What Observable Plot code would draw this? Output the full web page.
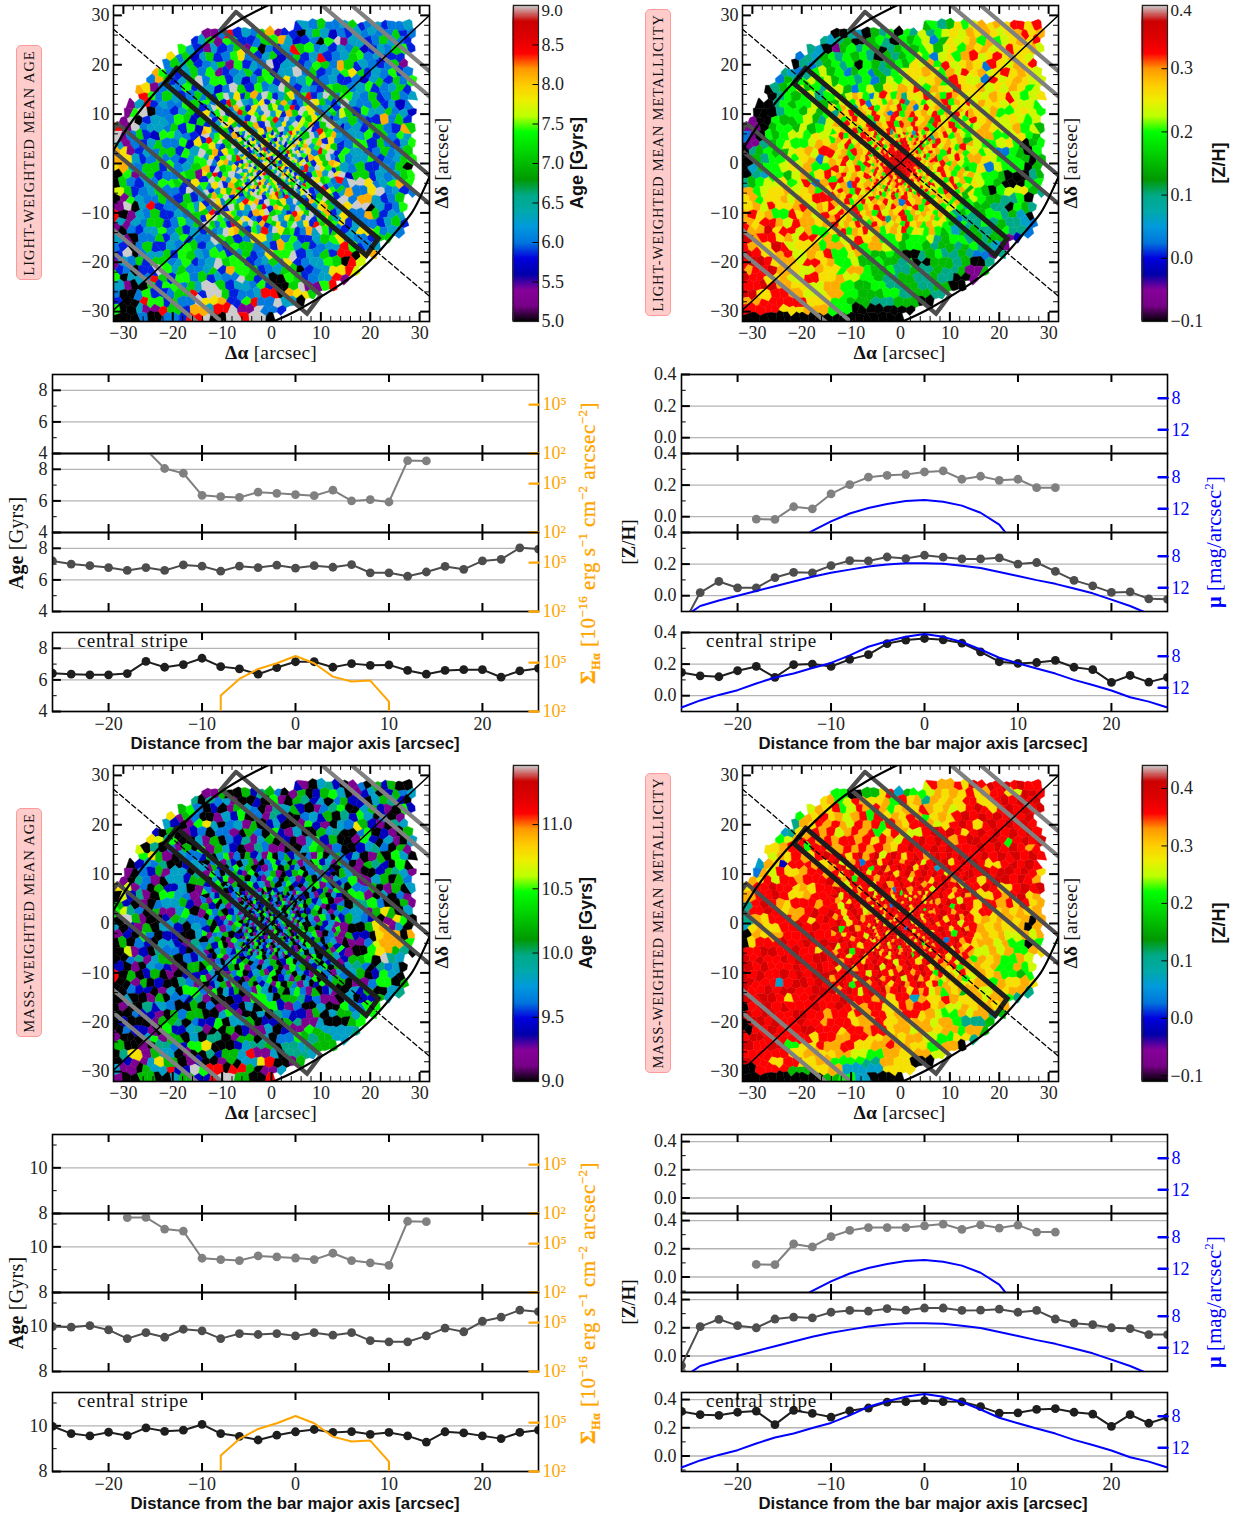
<!DOCTYPE html>
<html><head><meta charset="utf-8">
<script src="https://cdn.jsdelivr.net/npm/d3@7"></script>
<script src="https://cdn.jsdelivr.net/npm/@observablehq/plot@0.6"></script>
<style>
html,body{margin:0;padding:0;background:#fff}
#page{position:relative;width:1242px;height:1519px;overflow:hidden;background:#fff}
#page svg{position:absolute;max-width:none}
.t{position:absolute;white-space:nowrap;font-family:"Liberation Serif",serif;font-size:18px;color:#111;line-height:1}
.sans{font-family:"Liberation Sans",sans-serif;font-weight:700}
.box{position:absolute;background:#ffcccc;border:1.2px solid #ff9a9a;border-radius:5px;box-sizing:border-box}
</style></head><body><div id="page"></div>
<script>
/* ---------- profile data ---------- */
const distance=[-26,-24,-22,-20,-18,-16,-14,-12,-10,-8,-6,-4,-2,0,2,4,6,8,10,12,14,16,18,20,22,24,26];
const lightAgeOuter=[null,null,null,null,null,9.25,8.05,7.75,6.35,6.27,6.22,6.55,6.48,6.4,6.33,6.68,6.0,6.08,5.93,8.55,8.53,null,null,null,null,null,null];
const lightAgeMiddle=[7.2,7.0,6.9,6.78,6.6,6.78,6.6,6.95,6.87,6.55,6.87,6.78,6.93,6.75,6.9,6.8,6.97,6.45,6.45,6.23,6.5,6.85,6.67,7.2,7.3,8.03,7.95];
const lightAgeCentral=[6.42,6.36,6.32,6.32,6.4,7.17,6.8,6.97,7.37,6.84,6.7,6.36,6.78,7.15,7.15,6.8,7.03,6.92,6.95,6.6,6.36,6.6,6.65,6.65,6.17,6.57,6.73];
const lightZOuter=[null,null,null,null,-0.015,-0.017,0.063,0.05,0.144,0.203,0.25,0.262,0.267,0.283,0.29,0.237,0.256,0.23,0.237,0.184,0.184,null,null,null,null,null,null];
const lightZMiddle=[-0.2,0.02,0.09,0.05,0.05,0.115,0.148,0.145,0.19,0.222,0.22,0.245,0.235,0.256,0.244,0.233,0.233,0.24,0.2,0.21,0.154,0.097,0.062,0.021,0.024,-0.02,-0.023];
const lightZCentral=[0.147,0.126,0.12,0.158,0.185,0.116,0.196,0.2,0.185,0.23,0.26,0.33,0.352,0.362,0.354,0.333,0.278,0.215,0.204,0.21,0.223,0.18,0.165,0.084,0.128,0.086,0.116];
const massAgeOuter=[null,null,null,null,11.28,11.29,10.78,10.69,9.5,9.44,9.4,9.6,9.56,9.51,9.44,9.72,9.4,9.3,9.19,11.12,11.1,null,null,null,null,null,null];
const massAgeMiddle=[9.97,9.94,10.01,9.82,9.44,9.7,9.5,9.85,9.78,9.44,9.66,9.62,9.66,9.56,9.7,9.59,9.7,9.35,9.3,9.3,9.56,9.9,9.74,10.2,10.38,10.69,10.62];
const massAgeCentral=[9.98,9.66,9.56,9.72,9.57,9.91,9.76,9.81,10.06,9.66,9.54,9.38,9.59,9.74,9.84,9.71,9.75,9.63,9.71,9.56,9.29,9.74,9.69,9.56,9.44,9.71,9.81];
const massZOuter=[null,null,null,null,0.089,0.087,0.234,0.213,0.286,0.33,0.35,0.35,0.35,0.363,0.375,0.337,0.37,0.347,0.368,0.318,0.318,null,null,null,null,null,null];
const massZMiddle=[-0.068,0.208,0.26,0.215,0.2,0.262,0.276,0.27,0.31,0.323,0.318,0.335,0.325,0.34,0.34,0.323,0.325,0.332,0.31,0.323,0.262,0.232,0.222,0.2,0.194,0.152,0.152];
const massZCentral=[0.316,0.293,0.288,0.31,0.318,0.222,0.323,0.302,0.276,0.32,0.34,0.382,0.386,0.393,0.386,0.384,0.35,0.304,0.306,0.33,0.335,0.31,0.297,0.21,0.293,0.232,0.274];
const muOuter=[null,null,null,null,null,null,16.1,14.8,13.6,12.6,11.9,11.4,11.0,10.9,11.1,11.6,12.5,14.0,17,null,null,null,null,null,null,null,null];
const muMiddle=[15.9,14.3,13.6,13,12.4,11.8,11.2,10.6,10.1,9.7,9.3,9.05,8.9,8.9,8.97,9.2,9.5,10,10.5,11.03,11.5,12.1,12.7,13.5,14.3,15.3,16];
const muCentral=[14.5,13.6,12.9,12.3,11.45,10.7,10.2,9.5,8.85,7.9,6.8,6.1,5.55,5.2,5.55,6.2,7.15,8.2,8.9,9.55,10.2,11,11.65,12.35,13.2,13.75,14.5];
const haDistance=[-8,-8,-6,-4,-2,0,2,4,6,8,10,10];
const haFlux=[100,955,10000,41000,91000,257000,91000,13800,6900,7900,407,100];

/* ---------- maps: one character per Voronoi cell, read region by region ---------- */
const spectralStops=[0,.05,.1,.15,.2,.25,.3,.35,.4,.45,.5,.55,.6,.65,.7,.75,.8,.85,.9,.95,1];
const spectralColors=["#000000","#770088","#880099","#0000aa","#0000dd","#0077dd","#0099dd","#00aaaa","#00aa88","#009900","#00bb00","#00dd00","#00ff00","#bbff00","#eeee00","#ffcc00","#ff9900","#ff0000","#dd0000","#cc0000","#cccccc"];
const cellCodes="0123456789abcd";
const lightAgeLevels=[5.0,5.28,5.7,5.85,6.02,6.3,7.15,7.42,7.68,7.88,8.12,8.4,8.68,9.0];
const lightZLevels=[-0.1,-0.065,-0.015,0.025,0.06,0.1,0.15,0.2,0.235,0.26,0.29,0.325,0.36,0.4];
const massAgeLevels=[9.0,9.17,9.42,9.62,9.79,9.98,10.23,10.48,10.65,10.77,10.92,11.09,11.26,11.46];
const massZLevels=[-0.11,-0.072,-0.017,0.028,0.066,0.11,0.165,0.22,0.258,0.286,0.319,0.358,0.396,0.44];
const rowFirst=[40,40,23,11,10,8,7,6,5,4,3,3,2,1,1,0,0,0,0,0,0,0,0,0,0,0,0,0,0,0,0,0,0,0,0,0,0,0,0,0];
const rowLast=[-1,-1,37,37,37,37,36,36,37,37,37,37,37,37,37,37,37,37,37,37,37,37,37,37,36,36,36,36,36,34,33,32,31,30,29,27,25,23,21,19];
const seedShiftX=[.31,-.42,.12,-.18,.47,-.29,.05,.38,-.5,.22,-.09];
const seedShiftY=[-.26,.41,-.13,.33,-.48,.19,.07,-.37,.28,-.04,.44,-.21,.15];

const lightAgeOuterCells=["","",
"354644563453445",
"114b3546a1330456524354544634",
"3561763467a523407d15346543",
"75315346170435b4674535462354673",
"9462563479435624635b3456745233",
"4656345617354d2534764a63543461",
"a7435647134563725d46345796354734",
"4a6356d4735246739457345342563647",
"a9145473524d63745d635437645734563",
"b746534627a45d3637945361754634645",
"15b35476345127894d3456347d5463524",
"17d043562463d93457845d73463756452",
"1d0354762543893d5617452735643a463",
"b1d4546372594d7386345d7462453643a6",
"d146327543678d2935d7362546345736475",
"5143564729d7934736d8562456347364357",
"a9135463757968d3947568354d675346456",
"a953464357d6478937d29458d6345734567",
"9a54637456d38726d748926d7354635460",
"0715634761794d5638d9745637d26354567",
"064354763975d9324d86d5467534d9457a7",
"86345643d54738d5964d7354635a49d4534",
"0175464363d8974627d6345367d4a5346",
"1d05b34675439d7286d3547634a9d05347",
"b015463546d3275d9456734563d94a6355",
"5154634756734d6275343567a93543563",
"1043574635469d34756346356d3597454",
"5104635734d7634956473567954366",
"4304635476354376453a756345b7345",
"3d04563765473563497d35463b09a",
"154636457345d67345649345760b8",
"3403d7564563a76345603459b8",
"7054b63746354d635076345b1",
"510637465d63547306d17b",
"4047346b3d6345b0a96",
"30b7364d9a37b4d50",
"7051b63a5bd1d43",
"004043bd0dbd0"];
const lightAgeMidCells=[
"4637d5936a4d7356947b35d64","7493b6d54793d6a5347d96435","35d864a7395d6847b3d964573","947d35b6974d583a6d7943568",
"6d3a79453d697b4d538697d34","375d964b7a3d6594d87a36d95","a94763d87593a6d4795d3b674",
"d5794a36d497a5","3b7d6958d7a394","79436d9a57d963","d6a3975d94b7d3","5937d6b3a96d47","7d49a53d7396a9","a3d6794b5d9736","96b37d4937a5d9","3d7a5963d9674b","749d3a6b79d354","d3596a7d34b976",
"56a7d39467d3a95b7d4936d73","3d94675b9a3d7694d53a7964d","947a3d695d7b3a964d7359a64","6b3d97453a9d6753b96d47a35","39d75a6d943b7d596a4d37965","d6473b95d7a36947d593b6a74","3745d9a6375b4d96734a5d736"];
const lightAgeInnerCells=[
"74d93589473d6257b947","3d75946279853d8597d6","947d365a9742d6d58493","6d3895d7a2694d375d96",
"b4786d3975d4962d8a47","792d594b37d95678d439","d69347d8a49d357b6d95","49d7a536d9784d2965d7",
"795d396a7b3d96749d53","3d76924d85b7396d7948","97a4d6599d7256a8d479","69d83795a4d7b9356d74",
"d4597a3d9675d849375b","7956d38b497d5a96d347","4a7d953d769b58d47396","d7496d8a579d3759a4d6",
"7935d6b94a783d9567d4","5d78a396d5794ba96d37","b6943d7985d6a4792d59","3759d6a47d9b6375d948"];

const lightZOuterCells=["","",
"6756978a9a9bb9b",
"00540657075857898a9a989ab9a",
"5456006750767836989a7a789a9b",
"54016757605676786897a9a89b99a8",
"354675767506567873897ab89b9a98",
"05356757076567698a7b89a93b98a9b",
"54357867367365789a97a8b9a89b9a98",
"3657878675736878989a7b983b89a988",
"0567867586378698a9b7a98b9a898a978",
"05767857985968a9b89a7b9a98a9b8789",
"00576786379a879a8b9a8a79b8a989887",
"000576867589a9b89a3ba9a8b98a78987",
"1007678658a9b89ab8bab9a87b9a89878",
"11067686789ab89a7bcb89b9a78a98a786",
"3107678798a9b8a9bccb9a7b8a38a778976",
"11567878a9b89abcbccbb98a79a87897067",
"0567689a8b9a8bbcccccb9a78a97837607",
"0657879a38b9abbccccb89a87a9877606",
"0467898a79ba9bccccb9a98a79387706",
"054768a79b8abcccb9ab98a7a87760056",
"5678978b3a8bbcbab97a98a7898760077",
"a789a89a79b9a89a7b9a87a8976078965",
"9a79a8a9b89a8ba97a98a7898766570",
"9a8b9ab8a9b8a9b97a89a887876650765",
"ab9a7b9a8b9a7a9b897a3878765675640",
"a9ba8ba9ab89a798a8787665756543",
"bac9b8a7a9b7a987a7873656753",
"cab9a8b9a78b9a79678567565612",
"ba9cb89a7a9b7a8767656567541",
"cb9ab8a9b78a76760567565315",
"bcb9a8b9a78676570665605",
"abca98a97a76756565616",
"cb9a8b9a8765656501",
"bca98a76756560",
"c9ba8a767565",
"abb976560",
"bb9a7000",
"00000"];
const lightZMidCells=[
"7868a9738b97a5989b8a7ba98","68a79b3897a8b5a9789ab7a9b","97a85a9b79a9b7a38b9a7b8a9","5a9b7a8b9a3b7ab9a8b7a9b8a",
"8a79b9a7b8ab9a7b9a6b8a797","a7b8a9b5a9b7bab9a7ba9b7a8","79a9b7ab8abb9a8bab79a8b97",
"9b7a8baa9b7a87","7a9b8ba7b9a8a6","a8b7a9bb8a97b8","b9a7ba99a7b8a7","8ab7a9bb7a8b9a","a9b8a7ba9b7a87","b8a9b7a8b9a7a6","9ab8a9ba8b97a8","7b9ab8a9a7b8a7","b8a3b9ab8a9b78","9ba7b8aa7b97a6",
"ba9b8a9b7a9bab8a9b7a8a786","a9b7ab8a9b8a3b9a7b8a97a67","b8a9b7a9ba8b9a8b7a9a78975","9ba8b9a7b8a9b7a8a97a87567","ab9a7b8a9b5a9b7a98a797635","b8a9ba7b9a8a7b9a7a8976575","9ab7a9b8a79a8b7987a767456"];
const lightZInnerCells=[
"a8b7a9b5a98b7a4b97a8","9b7a8b9a7b8a9b7a8b95","b9a7ba9b8abb97ab8a7b","7a9b8a9bb7cb8ab9b87a",
"a8b9b7abb9bbc9a8b7a9","9b7ab9bbabcbba97b8a9","b8a9bacbbccbb9ab7a9b","7b9abb9cccbcbb9a8b7a",
"a9b8abbccccbcb9bb97a","8ab9bcbccccccbab8a9b","b7a9bacbccccbcbb9a8a","9ab8bbcbcccbcbab9b7a",
"a7b9abbbcbccbbb97ab9","8b9a7bbacbbcbab9a8b7","b9a8b9ab9bcbb9abb7a9","7ab9a8bab8bbab9b8a97",
"a9b7a9b9abb7abb9a87b","9b8a7b8ab9a8b7a9b9a8","b7a98b7a9b9a7b8a97b8","8a9b7a8b7a8b9a7b8a7a"];

const massAgeOuterCells=["","",
"210452013062600",
"116006256301602674012402634",
"50534102071065240362046520",
"6730201643015460201357004621072",
"9163001427031521003426052740301",
"4201794034160240017210439621054",
"2060123031063072140064503702106",
"9857004160325146020147260017204104",
"8050316071642015310047613002453061",
"7961043316025041602314003240160740",
"0243500241637002635012240301652070",
"1032614052102601431007536041026541",
"1053104261305213604067421037146063",
"98130624016452036270040162503601604",
"08251074312046214036001345207104031",
"62010346216043016504017640305730061",
"78530614702540016260405126034169604",
"0d6100265302103401062540017643201970",
"4021604204103240317025016721069a140",
"1207302004253071240016524016209aa0a",
"0603204215403213001425067240138aaa7",
"0812053204102321076204016521079a650",
"0035146032016024073620065302670d54",
"20104321067213001024302067245305340",
"b0602601027360105460012716034602740",
"0016020531062700465013670260137706",
"0032014072104060310467030426045",
"0401603251002174065231040264",
"0105243060312040721304007377",
"0032106360047104053216046477",
"0200165032704602065140067",
"0321072451060214021764445",
"100471604050160403765644",
"601053279002456054566",
"0591640105264b140554",
"021496012016049b016",
"41064b2d7b0b6014",
"1060462bd60b"];
const massAgeMidCells=[
"2604713062417036240317046","0371520461037240613072416","4162037460213706240317520","1730462170346102670341206",
"6042713604217306412603714","2170460372416037204671302","7316024036170246031402617",
"04261370316042","31706240624701","62041370371026","17360240260413","04217360417302","36024170036241","20713640602417","71346020471036","04601730260341","36270140713062","10463270402617",
"4207136024706130426170364","6130472603146027031460241","0714260713042601736024706","2406137024617036042170314","7130462016347024160370246","0246170360241706314027160","3170426031740260473160241"];
const massAgeInnerCells=[
"02160340127402603174","40317026403160240312","16024031702406130240","03107204613027416035",
"24061302470316024017","70314026031470260314","13602470316024073102","40261307402613047206",
"31704260317046037142","06241703160247031604","72031460240713602417","14602713046023170246",
"03170246031702460137","26401370246031460270","01734602170346021706","34017260341706240317",
"60241703260417036024","17036042710346072103","40271360241703460217","23604170326041720364"];

const massZOuterCells=["","",
"8baab9cbcbcbcbb",
"7700669b46778a9a9b9abb98ccb",
"9a78ba9a7b9a5a9a9bb9bcbcbc",
"8a9b78baba79a9ba9a89bcb9bcbcbc",
"7a9b9a8ab7b9a9ba79a9bcbcbcbcbc",
"5a9baba8bab7ba9ba89bcb9bcbcbcb",
"459abab8abab79ba8bcbcb9bcbcbcbcb",
"78abbababab9ba8bbcbcbabcbcb7bcbc",
"99abb7bbabababa9bcbbcbcbbcbcbcbab",
"8a9ba9bcbab9abab9bcbbcb8bcbcbcbcb",
"4a92bba9babbabbab9bbcbbcbcb9bcbcb",
"3a8b9abba9bcbbabbabcbbcbcbcbcbcb9",
"a9b8babbbabbab9bcbbcbcbbcb9bcbcba",
"9bbcb9a9bbab9bbabcbcbbcbcbbcb9bcbc",
"aabbcb9abbab9bcbbcbcbcbbcbcb9babc9a",
"5bcba9bbabbcbbcbcbcbcbbcbab9bab9b9a",
"5bbcb9abcbbcbcbcbcbcbcbabab9b9a9a9a",
"5a9bbab9bcbbcbcbbccbcbbabb9a9a9a0a",
"49a9bbcbcbcbcbcbccbcbcba9ba9a9a0a",
"0a9abbbcbcbcbcbbcbcbabab9a9a8a8a",
"09bbcbcbcbcbbbcbbabb9ba9a8a707",
"bbcbbcb9bcbcbcbbabab9a9a8a8a7a9",
"cbcbcbcbcb9bbcbbabb9a9ba7a9a7a8",
"cbcbbcbbcb9bcbcbab9bab9a8a9a7a78",
"cbcbcbcbcbcbbabb9bcb9a9a8a9a767",
"cbb4bcbcbbcbbcbb9a9bab9a7a9a9",
"cbcbcbbcbcb9bbab9bab9a8a9a5",
"cbcb9bcbbcbbab9b4a9ba9a8a75",
"0bcbcbbcbcbabb9bab9a8a9a9a",
"cbcbbcbbab9bab9ab9a87a8a56",
"0cbcbcbabb9ab9a9a8a7556",
"0bcbbcbb9bab9a8a9a7a6",
"bcbbb9bab9a9a8795",
"cbc79bab9aba97a0",
"bbb9a9a87a9a8",
"cb9b9a775a900",
"0bb69a4499",
"0000067400"];
const massZMidCells=[
"bcb9bcabc8bcb9bcbabcbcbcb","c8bab3bc9bcbabcb8bcbc9bcb","abc9bcb7bcabcbc9bcb4bcbcb","b9bcab8bcbc9bcabcbcb8bcbc",
"cbab7bcbabcbcb8bcb9bcbabc","ab8bcbc9bcabcbcbabcbcbc8b","bcb9bab8bcb3bcabcb8bcbabc",
"c8bcabcbcb9bca","bab9bcbcabcb8b","b8bcbabbcb7bcb","cb9bcb8abcbabc","ab8bcabbc9bcab","bcb9bcbcabcb8b","c7bcabcbcb9bca","ab9bcb8abcb7bc","bcbabcbcb3bcab","c8bcb9babcbcb9","abc7bcbbcb9bab",
"bcb8bcabcb9bcbcb8bcab9bab","cabcb9bcbcb8bcb9bcabab8ba","b9bcabcbc8bcabcbcb9ba9b7a","cbcbcb8bcb9bcbabcb7b9a8b9","abcb9bcbcabcb8bcab9a8a9a7","bcb7bcabcb9bcabcb9b7a9a8a","cabcb8bcbcabcb9bab8a7a9a6"];
const massZInnerCells=[
"bc8b9cbabc7bc9bbac8b","c9bcabc8bcb9bcabc9bc","abcb8bcbabcbc8bcbabc","bcabcbc9bcabcbcbc8ba",
"c8bcbab3cbcbc9bcbbcb","bcb9bcbcb8bcbabcb7bc","a9bcbabcbcbcb8bcbcba","bcbc8bcbabcbcbcb9bcb",
"cbabcbcb9bcbcbabc8bc","bc9bcbabcbcbc8bcbabc","abcbc8bcbabcbcb9bcbb","c8bcbcb9bcb3cbcbabcb",
"bcabcbabcbcbcb8bcbc9","cb9bc8bcbabcbcbabcbb","bcbabcbcb8bcbabcb9bc","a8bcbcbabcb9bc8bcbab",
"bcbabc8bcbcbabcbc7bc","cb9bcbabc7bcb9bcbabc","b8bcabcbcbabcb8bcbc9","bcb9bc8bcabcb7bcbabc"];

/* ---------- overlays, arcsec ---------- */
const centralStripe=[[-19.2,19.3],[21.6,-15.2],[19.2,-18.6],[-21.6,16.2],[-19.2,19.3]];
const upperDarkStripe=[[-7.2,30.7],[36,-5.8],[33,-9],[-10.2,27.2],[-7.2,30.7]];
const lowerDarkStripe=[[-31.2,8.1],[10,-26.7],[7.2,-30.4],[-34,4.2],[-31.2,8.1]];
const upperLightStripe=[[12,35.6],[36,15.3],[36,10.2],[6,35.6]];
const lowerLightStripe=[[-36,-10.1],[-6,-35.5],[-11,-35.5],[-36,-14.8]];
const ellipseUpper=[[-32,2.7],[-29,7.5],[-25,12.7],[-21.2,16.9],[-16.5,21.5],[-11.6,25.7],[-6,29.3],[-0.4,32.2]];
const ellipseLower=[[0.4,-32],[6,-29.3],[13.2,-25],[18,-21.5],[22,-17.6],[25.5,-13.5],[28.4,-10],[30.5,-6],[32,-2.7]];
const minorAxisLine=[[-32,-29.7],[32,30]];
const majorAxisLine=[[-32,27.2],[32,-26.9]];
const mapTicks=[-30,-20,-10,0,10,20,30];
const mapMinorTicks=[-32,-28,-26,-24,-22,-18,-16,-14,-12,-8,-6,-4,-2,2,4,6,8,12,14,16,18,22,24,26,28,32];
const profileTicks=[-20,-10,0,10,20];

/* ---------- helpers ---------- */
const page=document.getElementById("page");
const axisFont={fontFamily:"Liberation Serif, serif",fontSize:"18px",background:"transparent",overflow:"visible",color:"#222"};
function place(svg,left,top){svg.style.left=left+"px";svg.style.top=top+"px";page.appendChild(svg);}
function label(html,cx,cy,rot,opts={}){
  const d=document.createElement("div");d.className="t "+(opts.cls||"");d.innerHTML=html;
  d.style.left=cx+"px";d.style.top=cy+"px";
  d.style.transform=`translate(-50%,-50%) rotate(${rot}deg)`;
  if(opts.size)d.style.fontSize=opts.size+"px";
  if(opts.color)d.style.color=opts.color;
  if(opts.spacing)d.style.letterSpacing=opts.spacing+"px";
  if(opts.stroke)d.style.webkitTextStroke=opts.stroke;
  page.appendChild(d);
}
function pinkBox(html,x,y,w,h,spacing){
  const d=document.createElement("div");d.className="box";
  d.style.cssText+=`left:${x}px;top:${y}px;width:${w}px;height:${h}px`;
  page.appendChild(d);
  label(html,x+w/2,y+h/2,-90,{size:14.5,spacing});
}
function colorScale(min,max){
  return {type:"linear",domain:spectralStops.map(t=>min+t*(max-min)),range:spectralColors,clamp:true};
}
function seeds(outer,mid,inner,levels){
  const out=[];
  const shift=(r,c,p)=>[seedShiftX[(r*3+c)%11]*p,seedShiftY[(r*5+c*2)%13]*p];
  const at=(row,i)=>row[Math.min(row.length-1,i)];
  for(let r=0;r<40;r++){
    const y=31.2-1.6*r,row=outer[r]||"",first=rowFirst[r],last=rowLast[r];
    for(let c=0;c<40;c++){
      const x=-31.2+1.6*c+(r%2?0.4:-0.4);
      if(Math.abs(x)<14&&Math.abs(y)<14)continue;
      const [sx,sy]=shift(r,c,1);
      let v=null;
      if(c>=first&&c<=last&&row.length){
        const i=Math.round((c-first)/Math.max(1,last-first)*(row.length-1));
        v=levels[cellCodes.indexOf(at(row,i))];
      }
      out.push({x:x+sx,y:y+sy,v});
    }
  }
  mid.forEach((row,r)=>{
    [...row].forEach((ch,i)=>{
      const c=(row.length<25&&i>=7)?i+11:i;
      const [sx,sy]=shift(r,c,0.75);
      out.push({x:-13.44+1.12*c+(r%2?0.28:-0.28)+sx,y:13.44-1.12*r+sy,v:levels[cellCodes.indexOf(ch)]});
    });
  });
  inner.forEach((row,r)=>{
    [...row].forEach((ch,c)=>{
      const [sx,sy]=shift(r,c,0.4);
      out.push({x:-6.08+0.64*c+(r%2?0.16:-0.16)+sx,y:6.08-0.64*r+sy,v:levels[cellCodes.indexOf(ch)]});
    });
  });
  return out;
}
function pts(a){return a.map(([x,y])=>({x,y}));}
function mapPanel(cfg){
  const {left,top,outer,mid,inner,levels,min,max}=cfg;
  const S=316,mL=50,mB=30,mT=10,mR=30;
  const D=seeds(outer,mid,inner,levels);
  const stripe=(a,c,w)=>Plot.line(pts(a),{x:"x",y:"y",stroke:c,strokeWidth:w,strokeLinejoin:"miter",strokeMiterlimit:10,clip:true});
  const svg=Plot.plot({
    width:S+mL+mR,height:S+mT+mB,marginLeft:mL,marginRight:mR,marginTop:mT,marginBottom:mB,
    x:{domain:[-32,32],label:null},y:{domain:[-32,32],label:null},
    color:colorScale(min,max),style:axisFont,
    marks:[
      Plot.voronoi(D,{x:"x",y:"y",fill:d=>d.v==null?"white":d.v,stroke:d=>d.v==null?"white":d.v,strokeWidth:0.4,clip:true}),
      stripe(lowerLightStripe,"#808080",4.2),stripe(upperLightStripe,"#808080",4.2),
      stripe(lowerDarkStripe,"#4d4d4d",4.2),stripe(upperDarkStripe,"#4d4d4d",4.2),
      stripe(centralStripe,"#1e1e1e",5),
      Plot.line(pts(ellipseUpper),{x:"x",y:"y",curve:"natural",stroke:"black",strokeWidth:2.2,clip:true}),
      Plot.line(pts(ellipseLower),{x:"x",y:"y",curve:"natural",stroke:"black",strokeWidth:2.2,clip:true}),
      Plot.line(pts(minorAxisLine),{x:"x",y:"y",stroke:"black",strokeWidth:1.5,clip:true}),
      Plot.line(pts(majorAxisLine),{x:"x",y:"y",stroke:"black",strokeWidth:1.3,strokeDasharray:"5 3",clip:true}),
      Plot.ruleX(mapMinorTicks,{x:d=>d,y1:-32,y2:-31,stroke:"black",strokeWidth:1}),
      Plot.ruleX(mapMinorTicks,{x:d=>d,y1:31,y2:32,stroke:"black",strokeWidth:1}),
      Plot.ruleY(mapMinorTicks,{y:d=>d,x1:-32,x2:-31,stroke:"black",strokeWidth:1}),
      Plot.ruleY(mapMinorTicks,{y:d=>d,x1:31,x2:32,stroke:"black",strokeWidth:1}),
      Plot.ruleX(mapTicks,{x:d=>d,y1:-32,y2:-30.2,stroke:"black",strokeWidth:2}),
      Plot.ruleX(mapTicks,{x:d=>d,y1:30.2,y2:32,stroke:"black",strokeWidth:2}),
      Plot.ruleY(mapTicks,{y:d=>d,x1:-32,x2:-30.2,stroke:"black",strokeWidth:2}),
      Plot.ruleY(mapTicks,{y:d=>d,x1:30.2,x2:32,stroke:"black",strokeWidth:2}),
      Plot.axisX({ticks:mapTicks,tickSize:0,tickPadding:5,label:null}),
      Plot.axisY({ticks:mapTicks,tickSize:0,tickPadding:4,label:null}),
      Plot.frame({stroke:"black",strokeWidth:1.6})
    ]
  });
  place(svg,left-mL,top-mT);
  label('<b>Δα</b> [arcsec]',left+158,top+348,0,{size:19.5,spacing:0.2});
  label('<b>Δδ</b> [arcsec]',left+329,top+158,-90,{size:19.5,spacing:0.2});
}
function colorBar(cfg){
  const {left,top,min,max,ticks,topTick,fmt,title,titleX}=cfg;
  const mT=10,mB=10,mL=2,mR=50,W=25,H=316;
  const slices=d3.range(0,256).map(i=>({a:min+(max-min)*i/256,b:min+(max-min)*(i+1)/256}));
  const svg=Plot.plot({
    width:W+mL+mR,height:H+mT+mB,marginLeft:mL,marginRight:mR,marginTop:mT,marginBottom:mB,
    x:{domain:[0,1],axis:null},y:{domain:[min,max],label:null},
    color:colorScale(min,max),style:axisFont,
    marks:[
      Plot.rect(slices,{x1:()=>0,x2:()=>1,y1:"a",y2:"b",fill:d=>(d.a+d.b)/2,stroke:d=>(d.a+d.b)/2,strokeWidth:1.2}),
      Plot.ruleY(topTick==null?ticks:ticks.concat([topTick]),{y:d=>d,x1:0.78,x2:1,stroke:"black",strokeWidth:1}),
      Plot.axisY({anchor:"right",ticks,tickFormat:fmt,tickSize:0,tickPadding:3,label:null}),
      topTick==null?null:Plot.text([topTick],{x:()=>1,y:d=>d,text:d=>fmt(d),textAnchor:"start",dx:3,dy:5,fontSize:17,fill:"#222"}),
      Plot.frame({stroke:"#222",strokeWidth:1.2})
    ]
  });
  place(svg,left-mL,top-mT);
  label(title,titleX,top+158,-90,{cls:"sans",size:18});
}
function profilePanel(cfg){
  const {left,top,domain,major,minor,fmt,values,color,xaxis}=cfg;
  const W=486,H=79,mL=40,mR=60,mT=10,mB=30;
  const rows=distance.map((x,i)=>({x,y:values?values[i]:null})).filter(d=>d.y!=null);
  const dy=(domain[1]-domain[0])/H;
  const marks=[
    Plot.ruleY(major,{y:d=>d,stroke:"#b4b4b4",strokeWidth:1.3}),
    Plot.ruleY(major,{y:d=>d,x1:-26,x2:-25.05,stroke:"black",strokeWidth:2}),
    Plot.ruleY(minor,{y:d=>d,x1:-26,x2:-25.5,stroke:"black",strokeWidth:1}),
    Plot.ruleX(profileTicks,{x:d=>d,y1:domain[0],y2:domain[0]+8*dy,stroke:"black",strokeWidth:2}),
    Plot.ruleX(profileTicks,{x:d=>d,y1:domain[1]-8*dy,y2:domain[1],stroke:"black",strokeWidth:2})
  ];
  if(rows.length){
    marks.push(Plot.line(rows,{x:"x",y:"y",stroke:color,strokeWidth:2,clip:true}));
    marks.push(Plot.dot(rows,{x:"x",y:"y",fill:color,r:4.4,clip:true}));
  }
  marks.push(Plot.axisY({ticks:major,tickFormat:fmt,tickSize:0,tickPadding:5,label:null}));
  if(xaxis)marks.push(Plot.axisX({ticks:profileTicks,tickSize:0,tickPadding:6,label:null}));
  marks.push(Plot.frame({stroke:"black",strokeWidth:1.6}));
  const svg=Plot.plot({
    width:W+mL+mR,height:H+mT+mB,marginLeft:mL,marginRight:mR,marginTop:mT,marginBottom:mB,
    x:{domain:[-26,26],label:null,axis:null},y:{domain,label:null,axis:null},style:axisFont,marks
  });
  place(svg,left-mL,top-mT);
}
function overlayPanel(cfg){
  const {left,top,kind,xs,ys}=cfg;
  const W=486,H=79,mL=40,mR=60,mT=10,mB=30;
  const ha=kind==="ha";
  const color=ha?"#ffa500":"#0000ff";
  const ticks=ha?[100,100000]:[8,12];
  const rows=(xs||[]).map((x,i)=>({x,y:ys[i]})).filter(d=>d.y!=null);
  const y=ha?{type:"log",domain:[100,7.08e6],label:null,axis:null}:{domain:[15,5],label:null,axis:null};
  const marks=[];
  ticks.forEach(t=>marks.push(Plot.lineX([25.05,26],{x:d=>d,y:()=>t,stroke:color,strokeWidth:2.4})));
  if(rows.length)marks.push(Plot.line(rows,{x:"x",y:"y",stroke:color,strokeWidth:2,clip:true}));
  marks.push(Plot.axisY({anchor:"right",ticks,tickFormat:ha?(d=>d===100?"10²":"10⁵"):(d=>String(d)),tickSize:0,tickPadding:4,label:null,fill:color}));
  const svg=Plot.plot({
    width:W+mL+mR,height:H+mT+mB,marginLeft:mL,marginRight:mR,marginTop:mT,marginBottom:mB,
    x:{domain:[-26,26],label:null,axis:null},y,style:axisFont,marks
  });
  place(svg,left-mL,top-mT);
}
function stack(cfg){
  const {left,tops,domain,major,minor,fmt,series,kind,over}=cfg;
  const colors=[null,"#808080","#4d4d4d","#1e1e1e"];
  tops.forEach((top,i)=>{
    profilePanel({left,top,domain,major,minor,fmt,values:series[i],color:colors[i],xaxis:i===3});
    overlayPanel({left,top,kind,xs:over[i]?over[i][0]:null,ys:over[i]?over[i][1]:null});
  });
  label("central stripe",left+81,tops[3]+8,0,{size:19,spacing:0.9});
}

/* ---------- layout ---------- */
mapPanel({left:113,top:5,outer:lightAgeOuterCells,mid:lightAgeMidCells,inner:lightAgeInnerCells,levels:lightAgeLevels,min:5,max:9});
mapPanel({left:741.5,top:5,outer:lightZOuterCells,mid:lightZMidCells,inner:lightZInnerCells,levels:lightZLevels,min:-0.1,max:0.4});
mapPanel({left:113,top:764.5,outer:massAgeOuterCells,mid:massAgeMidCells,inner:massAgeInnerCells,levels:massAgeLevels,min:9,max:11.46});
mapPanel({left:741.5,top:764.5,outer:massZOuterCells,mid:massZMidCells,inner:massZInnerCells,levels:massZLevels,min:-0.11,max:0.44});

colorBar({left:513,top:5,min:5,max:9,ticks:[5,5.5,6,6.5,7,7.5,8,8.5],topTick:9,fmt:d3.format(".1f"),title:"Age [Gyrs]",titleX:577});
colorBar({left:1141.5,top:5,min:-0.1,max:0.4,ticks:[-0.1,0,0.1,0.2,0.3],topTick:0.4,fmt:d3.format(".1f"),title:"[Z/H]",titleX:1219});
colorBar({left:513,top:764.5,min:9,max:11.46,ticks:[9,9.5,10,10.5,11],fmt:d3.format(".1f"),title:"Age [Gyrs]",titleX:586});
colorBar({left:1141.5,top:764.5,min:-0.11,max:0.44,ticks:[-0.1,0,0.1,0.2,0.3,0.4],fmt:d3.format(".1f"),title:"[Z/H]",titleX:1219});

pinkBox("LIGHT-WEIGHTED MEAN AGE",16,45,26,235,1.0);
pinkBox("LIGHT-WEIGHTED MEAN METALLICITY",645,9,26,307,0.9);
pinkBox("MASS-WEIGHTED MEAN AGE",16,808,26,229,0.9);
pinkBox("MASS-WEIGHTED MEAN METALLICITY",645,773,26,300,0.8);

const f0=d=>String(d),f1=d3.format(".1f");
const haPair=[haDistance,haFlux];
stack({left:52,tops:[374,453,532,632],domain:[4,9],major:[4,6,8],minor:[5,7],fmt:f0,
  series:[null,lightAgeOuter,lightAgeMiddle,lightAgeCentral],kind:"ha",over:[null,null,null,haPair]});
stack({left:680.5,tops:[374,453,532,632],domain:[-0.1,0.4],major:[0,0.2,0.4],minor:[-0.1,0.1,0.3],fmt:f1,
  series:[null,lightZOuter,lightZMiddle,lightZCentral],kind:"mu",
  over:[null,[distance,muOuter],[distance,muMiddle],[distance,muCentral]]});
stack({left:52,tops:[1134,1213,1292,1392],domain:[8,11.46],major:[8,10],minor:[9,11],fmt:f0,
  series:[null,massAgeOuter,massAgeMiddle,massAgeCentral],kind:"ha",over:[null,null,null,haPair]});
stack({left:680.5,tops:[1134,1213,1292,1392],domain:[-0.11,0.45],major:[0,0.2,0.4],minor:[-0.1,0.1,0.3],fmt:f1,
  series:[null,massZOuter,massZMiddle,massZCentral],kind:"mu",
  over:[null,[distance,muOuter],[distance,muMiddle],[distance,muCentral]]});

const sup=s=>`<sup style="font-size:13px">${s}</sup>`;
const sigmaTitle='<b>Σ</b><sub style="font-size:12px"><b>Hα</b></sub> [10'+sup("−16")+' erg s'+sup("−1")+' cm'+sup("−2")+' arcsec'+sup("−2")+']';
const muTitle='<b>μ</b> [mag/arcsec'+sup("2")+']';
[0,760].forEach(dy=>{
  label('<b>Age</b> [Gyrs]',16,543+dy,-90,{size:20,spacing:0.2});
  label(sigmaTitle,589,543+dy,-90,{size:21,color:"#ffa500",spacing:0.5,stroke:"0.3px #ffa500"});
  label('[<b>Z</b>/<b>H</b>]',628,542+dy,-90,{size:19});
  label(muTitle,1213,542+dy,-90,{size:20.5,color:"#0000ff",spacing:0.2});
  label("Distance from the bar major axis [arcsec]",295,744+dy,0,{cls:"sans",size:16.8});
  label("Distance from the bar major axis [arcsec]",923,744+dy,0,{cls:"sans",size:16.8});
});
</script></body></html>
